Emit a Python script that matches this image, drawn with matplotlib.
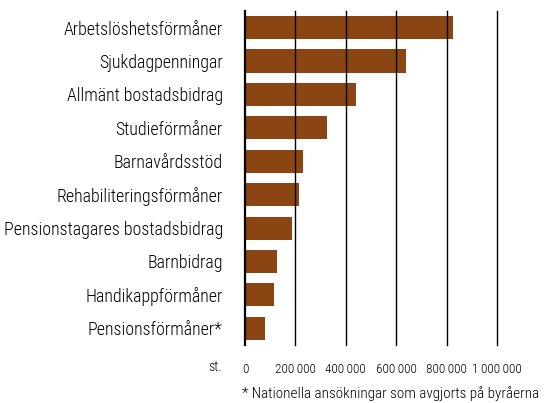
import matplotlib.pyplot as plt
import matplotlib.ticker as ticker

plt.rcParams['font.family'] = ['Roboto Condensed', 'DejaVu Sans']
plt.rcParams['font.weight'] = 'light'

categories = ['Arbetslöshetsförmåner', 'Sjukdagpenningar', 'Allmänt bostadsbidrag',
              'Studieförmåner', 'Barnavårdsstöd', 'Rehabiliteringsförmåner',
              'Pensionstagares bostadsbidrag', 'Barnbidrag', 'Handikappförmåner',
              'Pensionsförmåner*']
values = [825000, 637000, 442000, 327000, 231000, 215000, 187000, 127000, 116000, 80000]
xticks = [0, 200000, 400000, 600000, 800000, 1000000]

fig = plt.figure(figsize=(5.44, 4.03), dpi=100)
ax = fig.add_axes([0.4504, 0.144, 0.4632, 0.829])

pos = list(range(len(categories)))
ax.barh(pos, values, height=0.69, color='#8B4513', zorder=1)
ax.set_ylim(len(categories) - 0.5, -0.5)
ax.set_xlim(0, 1000000)

ax.set_yticks(pos)
ax.set_yticklabels(categories, fontsize=12.9)
ax.tick_params(axis='y', length=0, pad=16)

ax.set_xticks(xticks)
ax.xaxis.set_major_formatter(ticker.FuncFormatter(lambda v, p: f'{int(v):,}'.replace(',', '\u2009')))
ax.tick_params(axis='x', length=0, pad=13, labelsize=9.5)

# vertical grid lines drawn over the bars
for t in xticks[1:]:
    ax.axvline(t, color='black', linewidth=1, zorder=3, clip_on=False)

for s in ['top', 'right', 'bottom']:
    ax.spines[s].set_visible(False)
ax.spines['left'].set_linewidth(1.6)
ax.spines['left'].set_zorder(4)

fig.text(208 / 544, 1 - 367 / 403, 'st.', fontsize=10, ha='left', va='center')
fig.text(242 / 544, 1 - 394 / 403, '* Nationella ansökningar som avgjorts på byråerna',
         fontsize=10.9, ha='left', va='center')

fig.savefig('out.png', dpi=100)
